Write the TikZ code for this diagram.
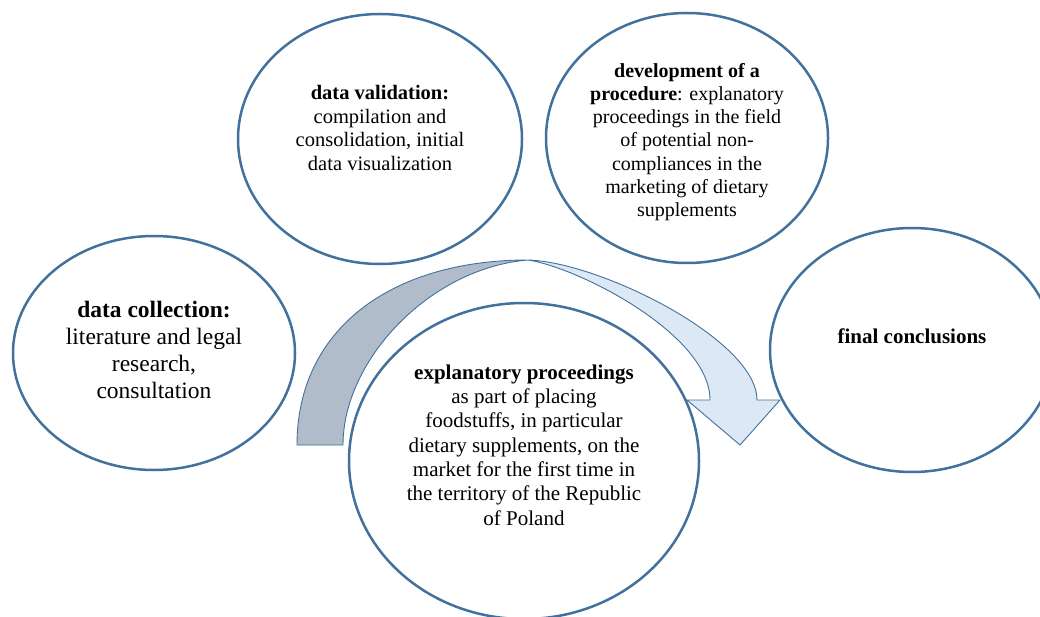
\documentclass[tikz,border=0pt]{standalone}
\usepackage{fontspec}
\setmainfont{Liberation Serif}
\usetikzlibrary{shapes.geometric}
\definecolor{ringblue}{RGB}{65,113,156}
\definecolor{bandback}{RGB}{176,188,201}
\definecolor{bandfront}{RGB}{221,232,245}
\tikzset{
  stage/.style={ellipse, draw=ringblue, line width=2.5pt, inner sep=0pt},
  stagetext/.style={align=center, inner sep=0pt, text=black},
  band/.style={draw=ringblue, line width=0.9pt, line join=miter}
}
\begin{document}
\begin{tikzpicture}[x=1pt, y=-1pt]
\useasboundingbox (0,0) rectangle (1040,617);
\clip (0,0) rectangle (1040,617);

% the five stages
\node[stage, minimum width=282pt, minimum height=234pt] (collect) at (154,353) {};
\node[stage, minimum width=284pt, minimum height=250pt] (validate) at (380,139) {};
\node[stage, minimum width=282pt, minimum height=250pt] (develop) at (687,138) {};
\node[stage, minimum width=284pt, minimum height=244pt] (final) at (912,350) {};
\node[stage, minimum width=350pt, minimum height=316pt] (explain) at (524,461) {};

% curved block arrow: shaded back part and light front part with head
\coordinate (aL)  at (297,445);
\coordinate (aLi) at (343,445);
\coordinate (aT)  at (528,260);
\coordinate (aR)  at (757,400);
\coordinate (aRi) at (710,400);
\coordinate (hL)  at (687,400);
\coordinate (hR)  at (780,400);
\coordinate (tip) at (740,445);
\filldraw[band, fill=bandback]
  (aL) .. controls (297,330) and (390,260) .. (aT)
       .. controls (430,268) and (343,360) .. (aLi) -- cycle;
\filldraw[band, fill=bandfront]
  (aT) .. controls (600,262) and (757,340) .. (aR)
       -- (hR) -- (tip) -- (hL) -- (aRi)
       .. controls (710,335) and (580,268) .. (aT) -- cycle;

% texts
\node[stagetext, font=\fontsize{23.5}{27}\selectfont] (collect-t) at (154,350)
  {\textbf{data collection:}\\literature and legal\\research,\\consultation};
\node[stagetext, font=\fontsize{20.5}{23.7}\selectfont] (validate-t) at (380,128)
  {\textbf{data validation:}\\compilation and\\consolidation, initial\\data visualization};
\node[stagetext, font=\fontsize{20}{23.2}\selectfont] (develop-t) at (687,142)
  {\textbf{development of a}\\\textbf{procedure}: explanatory\\proceedings in the field\\of potential non-\\compliances in the\\marketing of dietary\\supplements};
\node[stagetext, font=\fontsize{21}{24}\selectfont] (final-t) at (912,336)
  {\textbf{final conclusions}};
\node[stagetext, font=\fontsize{21}{24.3}\selectfont] (explain-t) at (524,445)
  {\textbf{explanatory proceedings}\\as part of placing\\foodstuffs, in particular\\dietary supplements, on the\\market for the first time in\\the territory of the Republic\\of Poland};
\end{tikzpicture}
\end{document}
